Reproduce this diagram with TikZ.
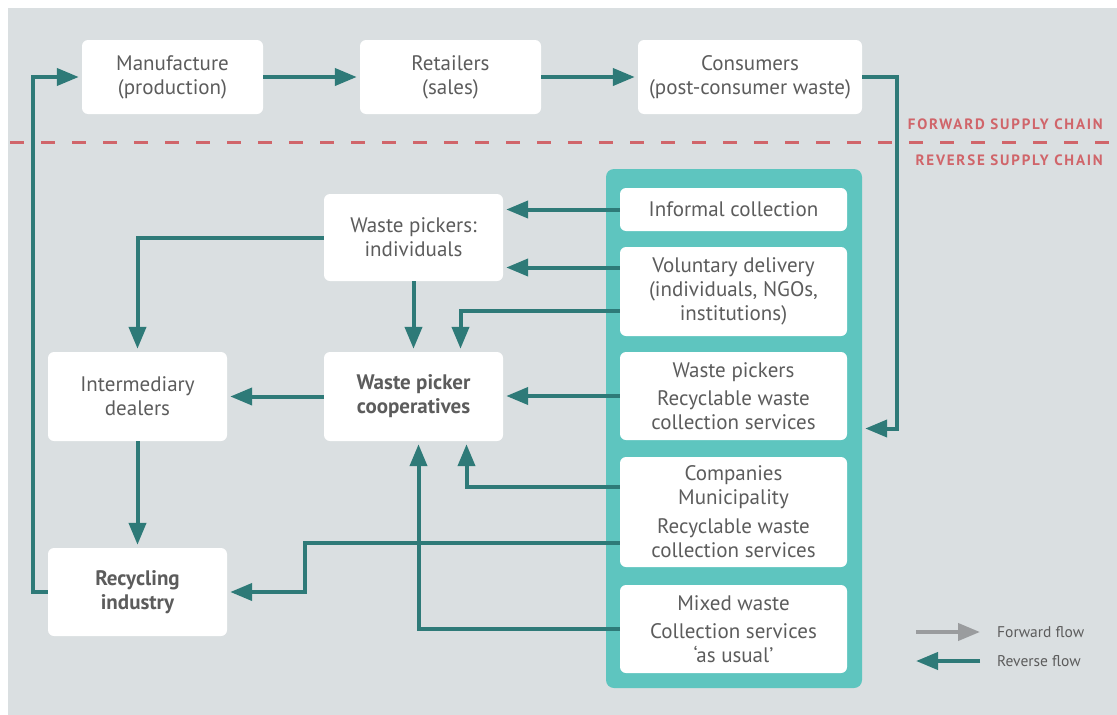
\documentclass[tikz,border=0pt]{standalone}
\usepackage{fontspec}
\setmainfont{PT Sans}
\usetikzlibrary{arrows.meta}

\definecolor{bggray}{HTML}{DADFE1}
\definecolor{panelteal}{HTML}{5EC5BF}
\definecolor{flowteal}{HTML}{2E7A78}
\definecolor{fwdgray}{HTML}{9A9C9E}
\definecolor{txtgray}{HTML}{5C5C5C}
\definecolor{chainred}{HTML}{D0656A}

\begin{document}
\begin{tikzpicture}
  [x=1pt,y=-1pt,
   every node/.style={font=\fontsize{21}{24}\selectfont, text=txtgray, align=center, inner sep=0pt},
   box/.style={fill=white, rounded corners=6pt, minimum width=179pt, minimum height=88pt},
   inbox/.style={fill=white, rounded corners=6pt, minimum width=227pt},
   boldtext/.style={font=\fontsize{21}{24}\selectfont\bfseries},
   chainlabel/.style={anchor=east, text=chainred, font=\fontsize{15}{16}\selectfont\bfseries\addfontfeatures{LetterSpace=12}},
   legendtext/.style={anchor=west, font=\fontsize{15.5}{17}\selectfont},
   rev/.style={draw=flowteal, line width=4pt, -{Triangle[length=22pt,width=17pt]}, shorten >=3pt},
   fwd/.style={draw=fwdgray, line width=4pt, -{Triangle[length=22pt,width=17pt]}}]
  \useasboundingbox (0,0) rectangle (1117,715);
  \fill[bggray] (8,8) rectangle (1117,715);

  % forward chain
  \node (manu) [box, minimum width=181pt, minimum height=74pt] at (172.5,77) {Manufacture\\(production)};
  \node (retail) [box, minimum width=181pt, minimum height=74pt] at (450.5,77) {Retailers\\(sales)};
  \node (cons) [box, minimum width=224pt, minimum height=74pt] at (750,77) {Consumers\\(post-consumer waste)};

  \draw[chainred, line width=3pt, dash pattern=on 14pt off 17pt] (10,142) -- (1117,142);
  \node (fwdlab) [chainlabel] at (1103,124) {FORWARD SUPPLY CHAIN};
  \node (revlab) [chainlabel] at (1103,160) {REVERSE SUPPLY CHAIN};

  % collection channels
  \node (panel) [fill=panelteal, rounded corners=8pt, minimum width=256pt, minimum height=519pt] at (734,428.5) {};
  \node (infcoll) [inbox, minimum height=43pt] at (733.5,209.5) {Informal collection};
  \node (voldel) [inbox, minimum height=89pt] at (733.5,291.5) {Voluntary delivery\\(individuals, NGOs,\\institutions)};
  \node (wpsvc) [inbox, minimum height=88pt] at (733.5,396) {Waste pickers\\[4pt]Recyclable waste\\collection services};
  \node (comp) [inbox, minimum height=110pt] at (733.5,512) {Companies\\Municipality\\[5pt]Recyclable waste\\collection services};
  \node (mixed) [inbox, minimum height=88pt] at (733.5,629) {Mixed waste\\[4pt]Collection services\\‘as usual’};

  % reverse chain
  \node (pickind) [box, minimum height=87pt] at (413.5,237.5) {Waste pickers:\\individuals};
  \node (coop) [box, boldtext, minimum height=89pt] at (413.5,396.5) {Waste picker\\cooperatives};
  \node (dealer) [box, minimum height=89pt] at (137.5,396.5) {Intermediary\\dealers};
  \node (recyc) [box, boldtext] at (137.5,592) {Recycling\\industry};

  \coordinate (vd1) at ([yshift=24pt]voldel.west);
  \coordinate (vd2) at ([yshift=-19pt]voldel.west);
  \coordinate (cm1) at ([yshift=25pt]comp.west);
  \coordinate (cm2) at ([yshift=-31pt]comp.west);

  \foreach \from / \to in {manu.east/retail.west, retail.east/cons.west, infcoll.west/pickind.east,
      vd1/pickind.east, wpsvc.west/coop.east, coop.west/dealer.east}
    \draw[rev] (\from) -- (\from -| \to);
  \foreach \from / \to in {pickind.south/coop.north, dealer.south/recyc.north}
    \draw[rev] (\from) -- (\to);

  \draw[rev] (vd2) -| ([xshift=47pt]coop.north);
  \draw[rev] (pickind.west) -| (dealer.north);
  \draw[rev] (cm1) -| ([xshift=53pt]coop.south);
  \draw[rev] (mixed.west) -| ([xshift=5pt]coop.south);
  \draw[rev] (cm2) -| ([xshift=78pt]recyc.east) -- (recyc.east);
  \draw[rev] (recyc.west) -- ([xshift=-15pt]recyc.west) |- (manu.west);
  \draw[rev] (cons.east) -- ([xshift=35pt]cons.east) |- (panel.east);

  % legend
  \node (fwdtxt) [legendtext] at (997,632) {Forward flow};
  \node (revtxt) [legendtext] at (997,661) {Reverse flow};
  \draw[fwd] ([xshift=-81pt]fwdtxt.west) -- ([xshift=-17pt]fwdtxt.west);
  \draw[rev, shorten >=0pt] ([xshift=-17pt]revtxt.west) -- ([xshift=-81pt]revtxt.west);

\end{tikzpicture}
\end{document}
